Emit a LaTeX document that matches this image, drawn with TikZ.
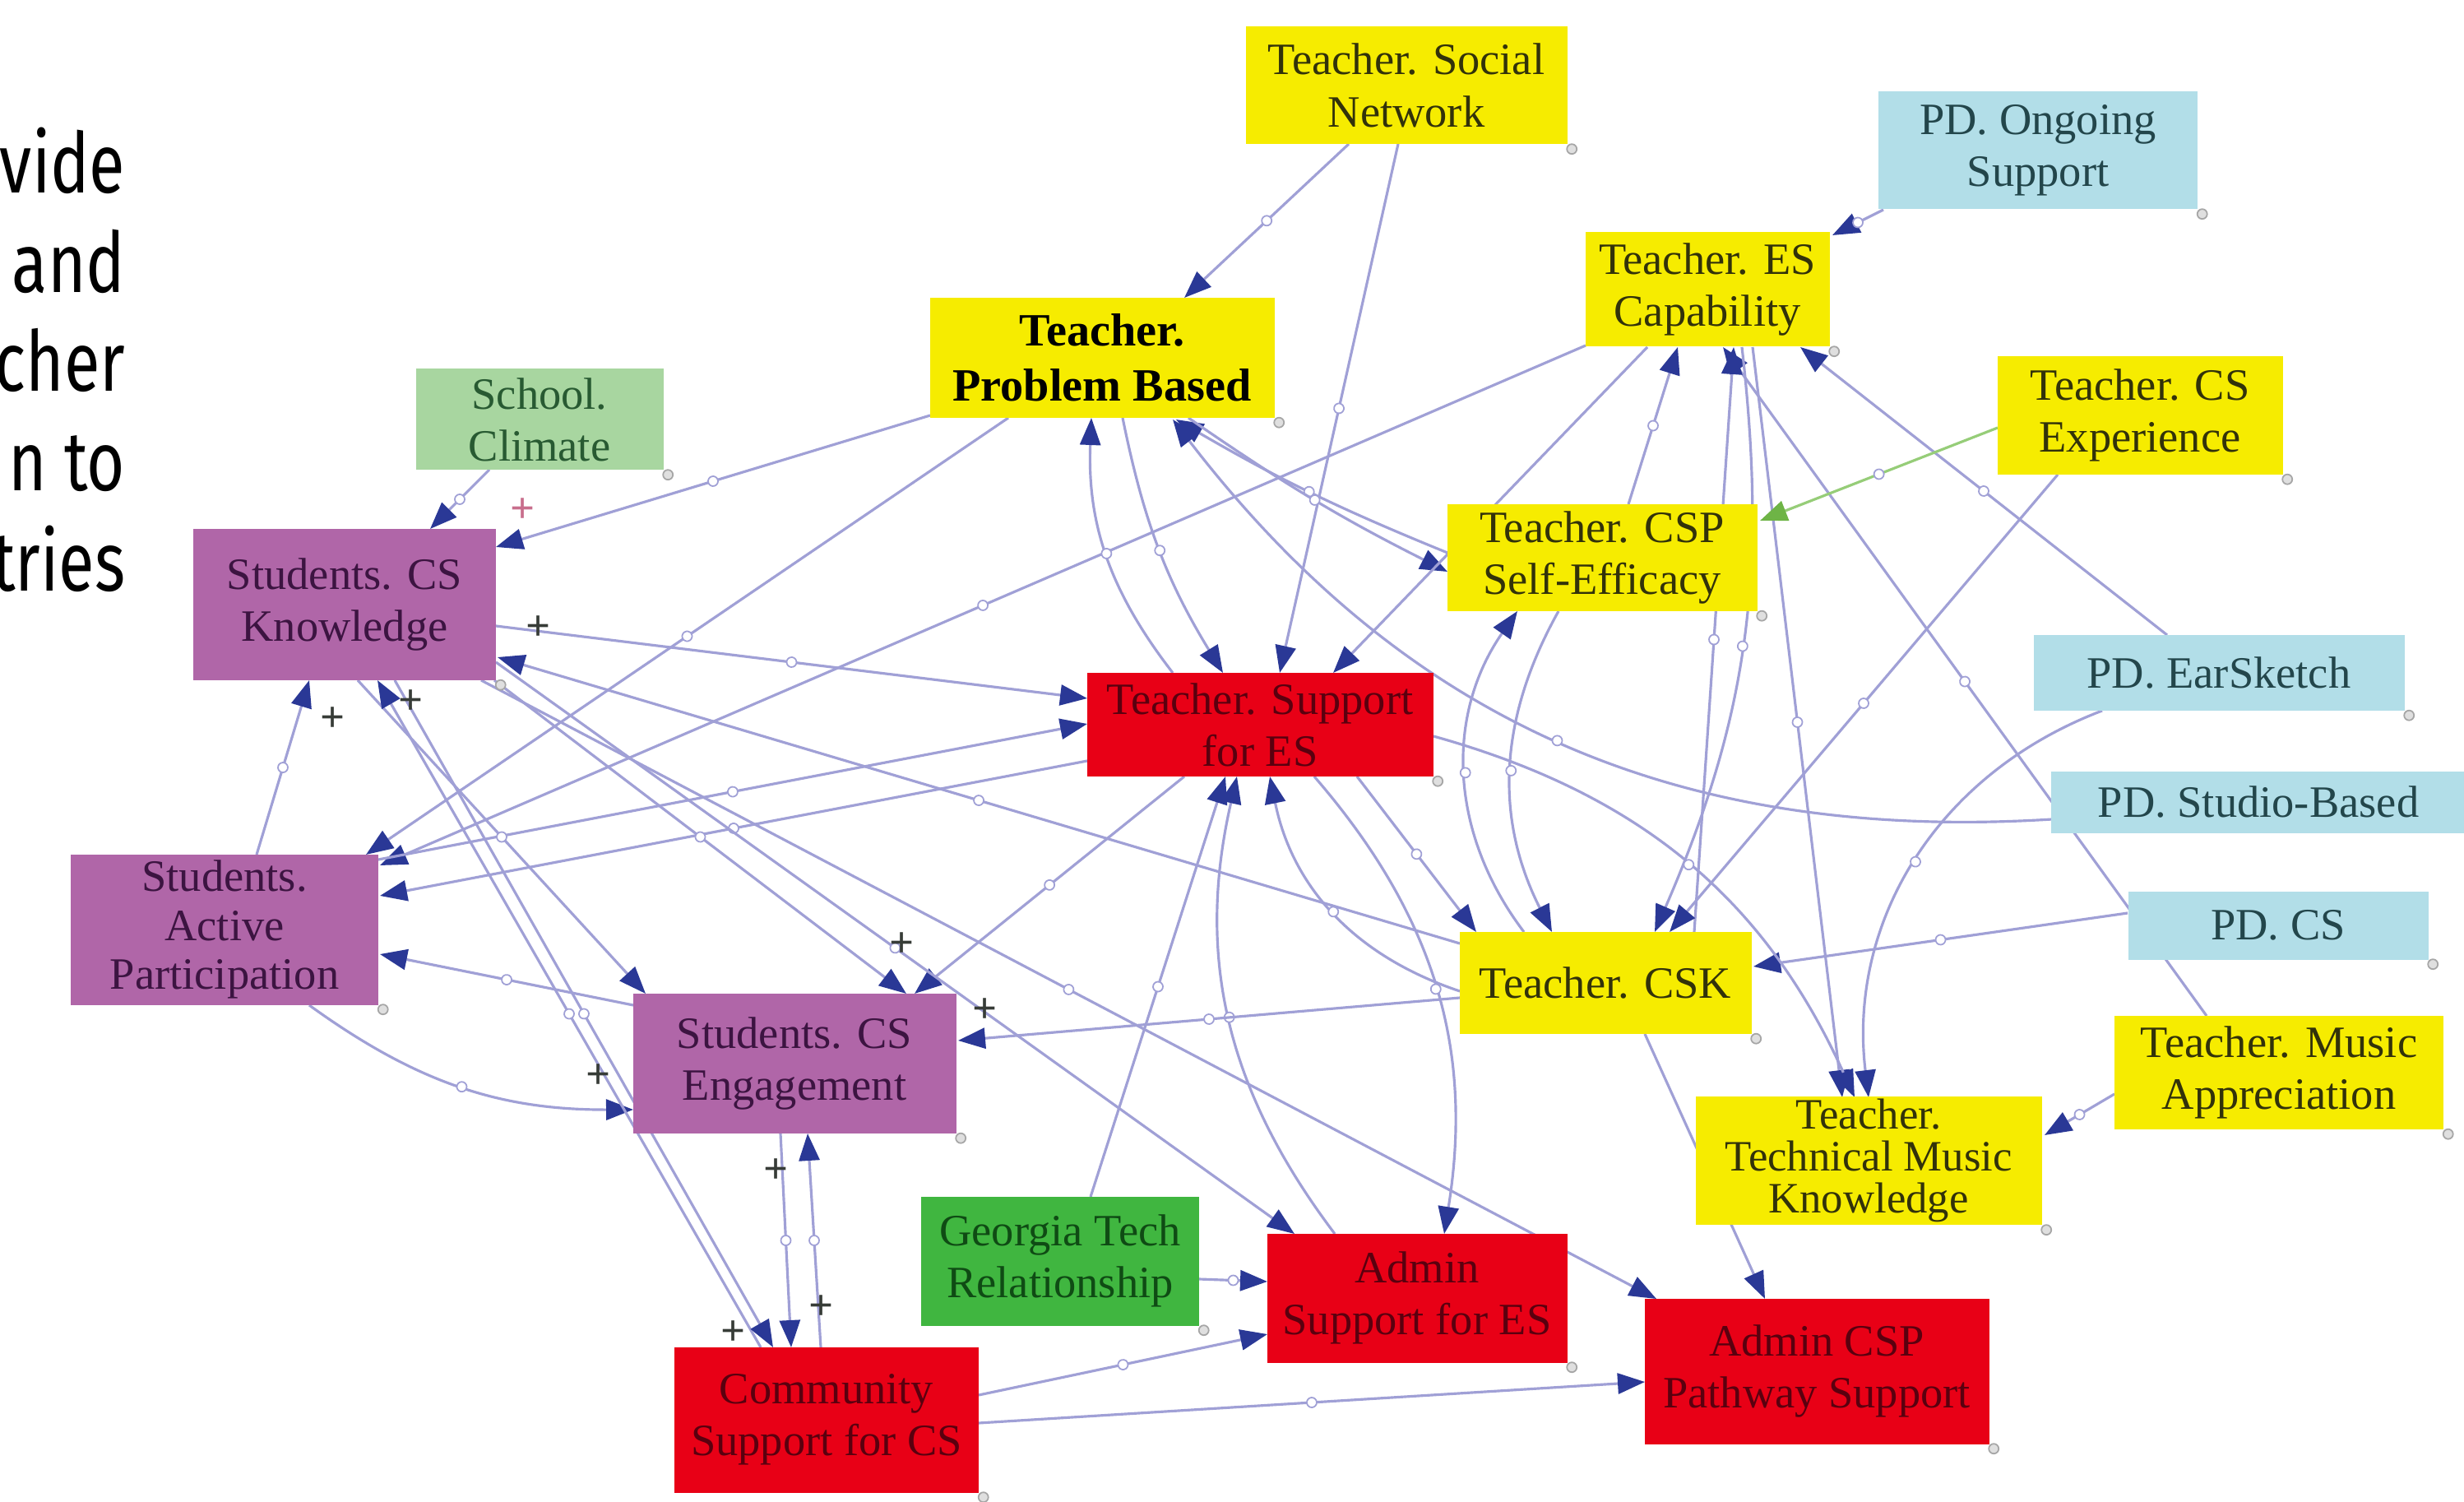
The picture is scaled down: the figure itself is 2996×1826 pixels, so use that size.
\documentclass[tikz,border=0pt]{standalone}
\usepackage{fontspec}
\setmainfont{Liberation Serif}
\newfontfamily\slidefont[FakeStretch=0.78]{Fira Sans}
\usetikzlibrary{arrows.meta, calc, backgrounds, decorations.markings}

\definecolor{tyellow}{RGB}{246,236,0}
\definecolor{tyellowtxt}{RGB}{50,50,10}
\definecolor{pdblue}{RGB}{178,222,232}
\definecolor{pdtxt}{RGB}{35,70,75}
\definecolor{spurple}{RGB}{176,102,168}
\definecolor{sptxt}{RGB}{60,20,65}
\definecolor{ared}{RGB}{232,0,22}
\definecolor{aredtxt}{RGB}{90,0,15}
\definecolor{sgreen}{RGB}{168,214,160}
\definecolor{sgreentxt}{RGB}{40,90,50}
\definecolor{ggreen}{RGB}{64,182,64}
\definecolor{ggreentxt}{RGB}{15,75,20}
\definecolor{linkblue}{RGB}{160,160,214}
\definecolor{arrowblue}{RGB}{42,56,150}
\definecolor{lgreen}{RGB}{150,205,120}
\definecolor{agreen}{RGB}{110,180,70}
\definecolor{plusgray}{RGB}{55,60,55}
\definecolor{pluspink}{RGB}{200,110,140}

\begin{document}
\begin{tikzpicture}[
        x=0.1mm, y=-0.1mm,
        % --- variabile ---
        var/.style={
                rectangle,
                align=center,
                inner sep=1pt,
                font=\fontsize{15.5}{18}\selectfont
            },
        teacher/.style={var, fill=tyellow, text=tyellowtxt},
        pd/.style={var, fill=pdblue, text=pdtxt},
        student/.style={var, fill=spurple, text=sptxt},
        admin/.style={var, fill=ared, text=aredtxt},
        school/.style={var, fill=sgreen, text=sgreentxt},
        gtech/.style={var, fill=ggreen, text=ggreentxt},
        % --- legaturi ---
        link/.style={
                draw=linkblue,
                line width=0.9pt,
                -{Triangle[length=3.3mm, width=2.5mm, color=arrowblue]},
                postaction={decorate, decoration={markings,
                            mark=at position 0.5 with {\draw[handle] (0,0) circle (0.6mm);}}}
            },
        greenlink/.style={
                link,
                draw=lgreen,
                -{Triangle[length=3.3mm, width=2.5mm, color=agreen]}
            },
        handle/.style={draw=linkblue, fill=white, line width=0.5pt},
        pol/.style={
                font=\fontsize{15}{15}\selectfont\bfseries,
                text=plusgray,
                inner sep=0pt
            },
        cornerdot/.style={draw=gray!70, fill=gray!25, line width=0.5pt},
        slide/.style={
                font=\slidefont\fontsize{29}{29}\selectfont,
                text=black,
                inner sep=0pt,
                anchor=base east
            }
    ]

    \useasboundingbox (0,0) rectangle (2996,1826);
    \begin{scope}[on background layer]
        \fill[white] (0,0) rectangle (2996,1826);
    \end{scope}

    % 1. Textul taiat din stanga
    \foreach \w/\yb [count=\i] in {vide/235, and/356, cher/476, n to/597, tries/718}
    \node[slide] (word\i) at (153,\yb) {\w};

    % 2. Variabilele
    \node[teacher, minimum width=39.1mm, minimum height=14.3mm] (tsn) at (1710,104) {Teacher. Social\\Network};
    \node[pd, minimum width=38.8mm, minimum height=14.3mm] (pdo) at (2478,183) {PD. Ongoing\\Support};
    \node[teacher, minimum width=29.7mm, minimum height=13.9mm] (tes) at (2076,352) {Teacher. ES\\Capability};
    \node[teacher, minimum width=41.9mm, minimum height=14.6mm, font=\fontsize{16}{19}\selectfont\bfseries, text=black] (tpb) at (1340,435) {Teacher.\\Problem Based};
    \node[school, minimum width=30.1mm, minimum height=12.3mm] (scl) at (656,510) {School.\\Climate};
    \node[teacher, minimum width=34.7mm, minimum height=14.4mm] (tcx) at (2602,505) {Teacher. CS\\Experience};
    \node[teacher, minimum width=37.7mm, minimum height=13.0mm] (tcsp) at (1948,678) {Teacher. CSP\\Self-Efficacy};
    \node[student, minimum width=36.8mm, minimum height=18.4mm] (sck) at (419,735) {Students. CS\\Knowledge};
    \node[admin, minimum width=42.1mm, minimum height=12.6mm] (tsup) at (1532,881) {Teacher. Support\\for ES};
    \node[pd, minimum width=45.1mm, minimum height=9.2mm] (pde) at (2698,818) {PD. EarSketch};
    \node[pd, minimum width=50.4mm, minimum height=7.5mm] (pds) at (2746,975) {PD. Studio-Based};
    \node[student, minimum width=37.4mm, minimum height=18.3mm, font=\fontsize{15.5}{17}\selectfont] (sap) at (273,1130) {Students.\\Active\\Participation};
    \node[pd, minimum width=36.5mm, minimum height=8.3mm] (pdc) at (2770,1125) {PD. CS};
    \node[teacher, minimum width=35.5mm, minimum height=12.4mm] (tcsk) at (1952,1195) {Teacher. CSK};
    \node[student, minimum width=39.3mm, minimum height=17.0mm] (sce) at (966,1293) {Students. CS\\Engagement};
    \node[teacher, minimum width=40.0mm, minimum height=13.8mm] (tma) at (2771,1304) {Teacher. Music\\Appreciation};
    \node[teacher, minimum width=42.1mm, minimum height=15.4mm, font=\fontsize{15}{14.5}\selectfont] (ttm) at (2272,1411) {Teacher.\\Technical Music\\Knowledge};
    \node[gtech, minimum width=33.8mm, minimum height=15.7mm] (gtr) at (1289,1533) {Georgia Tech\\Relationship};
    \node[admin, minimum width=36.5mm, minimum height=15.7mm] (ase) at (1723,1578) {Admin\\Support for ES};
    \node[admin, minimum width=41.9mm, minimum height=17.7mm] (acsp) at (2209,1667) {Admin CSP\\Pathway Support};
    \node[admin, minimum width=37.0mm, minimum height=17.7mm] (csc) at (1005,1726) {Community\\Support for CS};

    % punctele din colt
    \foreach \n in {tsn,pdo,tes,tpb,scl,tcx,tcsp,sck,tsup,pde,sap,pdc,tcsk,sce,tma,ttm,gtr,ase,acsp,csc}
    \draw[cornerdot] ($(\n.south east)+(5,5)$) circle (0.6mm);

    % 3. Legaturile (sub cutii)
    \begin{scope}[on background layer]
        % sus
        \draw[link] ($(tsn)+(-70,71)$) -- ($(tpb)+(100,-73)$);
        \draw[link] ($(tsn)+(-10,71)$) -- ($(tsup)+(24,-63)$);
        \draw[link] ($(pdo)+(-188,72)$) -- ($(tes)+(152,-66)$);
        \draw[link] ($(scl)+(-61,61)$) -- ($(sck)+(104,-92)$);
        \draw[link] ($(tpb)+(-209,70)$) -- ($(sck)+(184,-70)$);
        \draw[link] ($(tpb)+(-114,73)$) -- ($(sap)+(172,-91)$);
        \draw[link] ($(tes)+(-148,68)$) -- ($(sap)+(189,-78)$);
        \draw[link] ($(tpb)+(25,73)$) to[bend right=10] ($(tsup)+(-45,-63)$);
        \draw[link] ($(tsup)+(-106,-63)$) to[bend left=20] ($(tpb)+(-13,73)$);
        \draw[link] ($(tcsp)+(-188,-6)$) to[bend left=4] ($(tpb)+(90,75)$);
        \draw[link] ($(tpb)+(105,73)$) to[bend right=4] ($(tcsp)+(-188,17)$);
        \draw[link] ($(tes)+(-73,70)$) -- ($(tsup)+(89,-63)$);
        % Teacher. ES Capability
        \draw[link] ($(tcsp)+(32,-65)$) -- ($(tes)+(-36,70)$);
        \draw[link] ($(tma)+(-88,-69)$) -- ($(tes)+(19,70)$);
        \draw[link] ($(pde)+(-63,-46)$) -- ($(tes)+(113,70)$);
        \draw[link] ($(tcsk)+(108,-62)$) -- ($(tes)+(32,70)$);
        \draw[link] ($(tes)+(42,70)$) to[bend left=15] ($(tcsk)+(60,-62)$);
        \draw[link] ($(tes)+(55,70)$) -- ($(ttm)+(-32,-77)$);
        \draw[greenlink] ($(tcx)+(-173,15)$) -- ($(tcsp)+(192,-45)$);
        \draw[link] ($(tcx)+(-100,72)$) -- ($(tcsk)+(78,-62)$);
        \draw[link] ($(tcsp)+(-53,65)$) to[bend right=28] ($(tcsk)+(-65,-62)$);
        \draw[link] ($(tcsk)+(-99,-62)$) to[bend left=36] ($(tcsp)+(-103,65)$);
        \draw[link] ($(pdc)+(-183,-15)$) -- ($(tcsk)+(180,-20)$);
        \draw[link] ($(pds)+(-251,21)$) to[bend left=28] ($(tpb)+(86,75)$);
        \draw[link] ($(tsup)+(211,14)$) to[bend left=25] ($(ttm)+(-17,-77)$);
        \draw[link] ($(pde)+(-142,46)$) to[bend right=38] ($(ttm)+(0,-77)$);
        \draw[link] ($(tma)+(-200,26)$) -- ($(ttm)+(214,-31)$);
        \draw[link] ($(tcsk)+(48,62)$) -- ($(acsp)+(-63,-88)$);
        % Teacher. Support for ES
        \draw[link] ($(tsup)+(118,63)$) -- ($(tcsk)+(-157,-62)$);
        \draw[link] ($(tcsk)+(-177,10)$) to[bend left=30] ($(tsup)+(12,63)$);
        \draw[link] ($(tsup)+(66,63)$) to[bend left=25] ($(ase)+(33,-78)$);
        \draw[link] ($(ase)+(-100,-78)$) to[bend left=25] ($(tsup)+(-28,63)$);
        \draw[link] ($(gtr)+(37,-78)$) -- ($(tsup)+(-42,63)$);
        \draw[link] ($(gtr)+(169,22)$) -- ($(ase)+(-182,-20)$);
        \draw[link] ($(csc)+(185,-30)$) -- ($(ase)+(-182,44)$);
        \draw[link] ($(csc)+(185,4)$) -- ($(acsp)+(-209,13)$);
        % elevii
        \draw[link] ($(sck)+(184,26)$) -- ($(tsup)+(-210,-32)$);
        \draw[link] ($(sap)+(187,-85)$) -- ($(tsup)+(-210,-1)$);
        \draw[link] ($(tsup)+(-210,44)$) -- ($(sap)+(189,-41)$);
        \draw[link] ($(tcsk)+(-177,-48)$) -- ($(sck)+(186,64)$);
        \draw[link] ($(tcsk)+(-177,18)$) -- ($(sce)+(199,-28)$);
        \draw[link] ($(tsup)+(-92,63)$) -- ($(sce)+(146,-85)$);
        \draw[link] ($(sck)+(182,92)$) -- ($(sce)+(136,-85)$);
        \draw[link] ($(sck)+(16,92)$) -- ($(sce)+(-181,-85)$);
        \draw[link] ($(sck)+(184,70)$) -- ($(ase)+(-149,-78)$);
        \draw[link] ($(sck)+(166,92)$) -- ($(acsp)+(-195,-88)$);
        \draw[link] ($(sce)+(-196,-71)$) -- ($(sap)+(189,30)$);
        \draw[link] ($(sap)+(103,92)$) to[bend right=18] ($(sce)+(-196,56)$);
        \draw[link] ($(sap)+(39,-91)$) -- ($(sck)+(-43,92)$);
        \draw[link] ($(csc)+(-80,-88)$) -- ($(sck)+(40,92)$);
        \draw[link] ($(sck)+(61,92)$) -- ($(csc)+(-65,-88)$);
        \draw[link] ($(sce)+(-17,85)$) -- ($(csc)+(-43,-88)$);
        \draw[link] ($(csc)+(-7,-88)$) -- ($(sce)+(16,85)$);
    \end{scope}

    % 4. Semnele de polaritate
    \node[pol, text=pluspink] (plus0) at (636,621) {+};
    \foreach \px/\py [count=\i] in {655/764, 405/875, 500/854, 1097/1149, 1198/1229, 728/1309, 944/1424, 999/1590, 892/1621}
    \node[pol] (plus\i) at (\px,\py) {+};

\end{tikzpicture}
\end{document}
